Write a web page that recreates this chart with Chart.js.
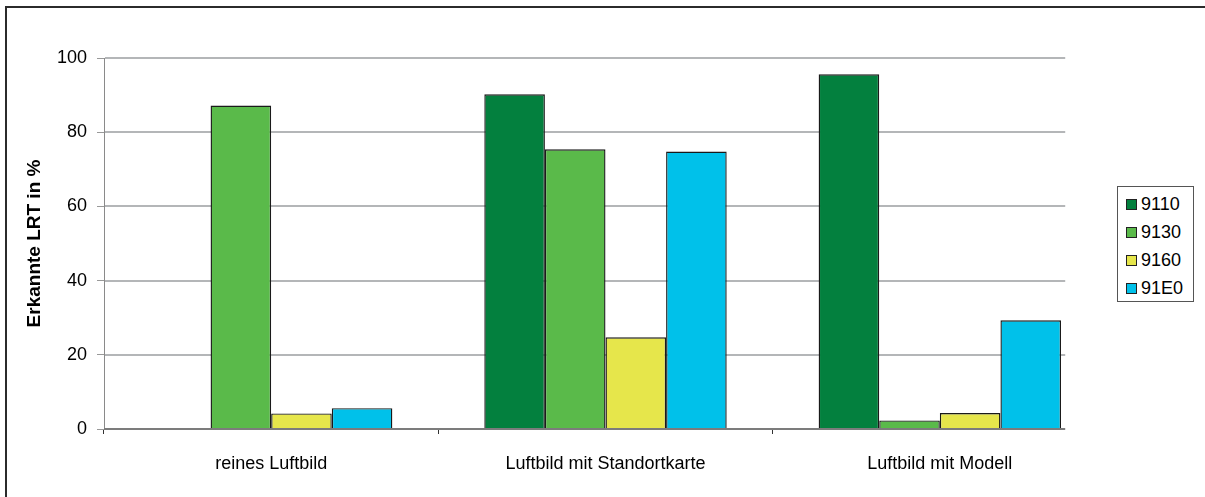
<!DOCTYPE html>
<html>
<head>
<meta charset="utf-8">
<script src="https://cdn.jsdelivr.net/npm/chart.js@4.4.1/dist/chart.umd.min.js"></script>
<style>
  html, body { margin: 0; padding: 0; background: #fff; }
  #wrap { position: relative; width: 1205px; height: 497px; overflow: hidden; }
  #frame { position: absolute; left: 5px; top: 6px; right: -10px; bottom: -10px;
           border-top: 2px solid #2b2b2b; border-left: 2px solid #2b2b2b; }
  canvas { position: absolute; left: 0; top: 0; }
  #legend { position: absolute; left: 1117px; top: 186px; width: 77px; height: 116px;
            border: 1px solid #555; box-sizing: border-box; background: #fff;
            font: 18px "Liberation Sans", Arial, sans-serif; color: #000; }
  .item { position: absolute; left: 8px; height: 20px; display: flex; align-items: center; white-space: nowrap; }
  .sw { width: 11px; height: 11px; border: 1px solid #222; box-sizing: border-box; margin-right: 4px; }
</style>
</head>
<body>
<div id="wrap">
  <div id="frame"></div>
  <canvas id="c" width="1205" height="497"></canvas>
  <div id="legend"></div>
</div>
<script>
// Categories and detection rates (%) per habitat type
const categories = ['reines Luftbild', 'Luftbild mit Standortkarte', 'Luftbild mit Modell'];
const seriesNames = ['9110', '9130', '9160', '91E0'];
const v9110 = [null, 90.2, 95.6];
const v9130 = [87.2, 75.4, 2.3];
const v9160 = [4.2, 24.7, 4.3];
const v91E0 = [5.6, 74.8, 29.3];
const yTicks = [0, 20, 40, 60, 80, 100];
const seriesColors = ['#03803e', '#5aba4a', '#e6e64b', '#00c1ea'];

const baseFont = { family: '"Liberation Sans", Arial, sans-serif', size: 18 };

// Horizontal grid lines stop short of the right edge of the category axis
const partialGrid = {
  id: 'partialGrid',
  gridEnd(chart) {
    const x = chart.scales.x;
    const step = x.getPixelForValue(1) - x.getPixelForValue(0);
    return x.getPixelForValue(categories.length - 1) + step * 0.375;
  },
  beforeDatasetsDraw(chart) {
    const { ctx, scales: { y }, chartArea } = chart;
    const xEnd = this.gridEnd(chart);
    ctx.save();
    ctx.strokeStyle = '#b4b6b8';
    ctx.lineWidth = 2;
    y.ticks.forEach(t => {
      if (t.value === 0) return;
      const py = Math.round(y.getPixelForValue(t.value));
      ctx.beginPath();
      ctx.moveTo(chartArea.left + 1, py);
      ctx.lineTo(xEnd, py);
      ctx.stroke();
    });
    ctx.restore();
  },
  afterDatasetsDraw(chart) {
    const { ctx, scales: { y }, chartArea } = chart;
    const xEnd = this.gridEnd(chart);
    const py = Math.round(y.getPixelForValue(0));
    ctx.save();
    ctx.strokeStyle = '#7c7c7c';
    ctx.lineWidth = 2;
    ctx.beginPath();
    ctx.moveTo(chartArea.left, py);
    ctx.lineTo(xEnd, py);
    ctx.stroke();
    ctx.restore();
  }
};

const seriesValues = [v9110, v9130, v9160, v91E0];

new Chart(document.getElementById('c'), {
  type: 'bar',
  data: {
    labels: categories,
    datasets: seriesNames.map((name, i) => ({
      label: name,
      data: seriesValues[i],
      backgroundColor: seriesColors[i],
      borderColor: '#1a1a1a',
      borderWidth: 1.4
    }))
  },
  options: {
    responsive: false,
    animation: false,
    devicePixelRatio: 1,
    layout: { padding: { left: 0, top: 58, right: 98, bottom: 0 } },
    plugins: { legend: { display: false }, tooltip: { enabled: false }, colors: { enabled: false } },
    datasets: {
      bar: { categoryPercentage: 0.725, barPercentage: 1 }
    },
    scales: {
      x: {
        grid: {
          offset: true,
          drawOnChartArea: false,
          tickLength: 5,
          lineWidth: 1,
          color: c => (c.type === 'tick' ? '#333' : 'rgba(0,0,0,0)')
        },
        border: { display: false },
        ticks: { font: baseFont, color: '#000', padding: 19, maxRotation: 0, autoSkip: false },
        afterFit: s => { s.height = 68; }
      },
      y: {
        min: 0,
        max: 100,
        afterBuildTicks: s => { s.ticks = yTicks.map(v => ({ value: v })); },
        grid: { drawOnChartArea: false, tickLength: 7, color: '#999' },
        border: { display: true, color: '#8a8a8a', width: 1 },
        ticks: { font: baseFont, color: '#000', padding: 10 },
        title: {
          display: true,
          text: 'Erkannte LRT in %',
          font: { family: baseFont.family, size: 19, weight: 'bold' },
          color: '#000',
          padding: { top: 23, bottom: 0 }
        },
        afterFit: s => { s.width = 104; }
      }
    }
  },
  plugins: [partialGrid]
});

// Legend box on the right
const legend = document.getElementById('legend');
seriesNames.forEach((name, i) => {
  const item = document.createElement('div');
  item.className = 'item';
  item.style.top = (7 + i * 28) + 'px';
  const sw = document.createElement('span');
  sw.className = 'sw';
  sw.style.background = seriesColors[i];
  const tx = document.createElement('span');
  tx.textContent = name;
  item.appendChild(sw);
  item.appendChild(tx);
  legend.appendChild(item);
});
</script>
</body>
</html>
